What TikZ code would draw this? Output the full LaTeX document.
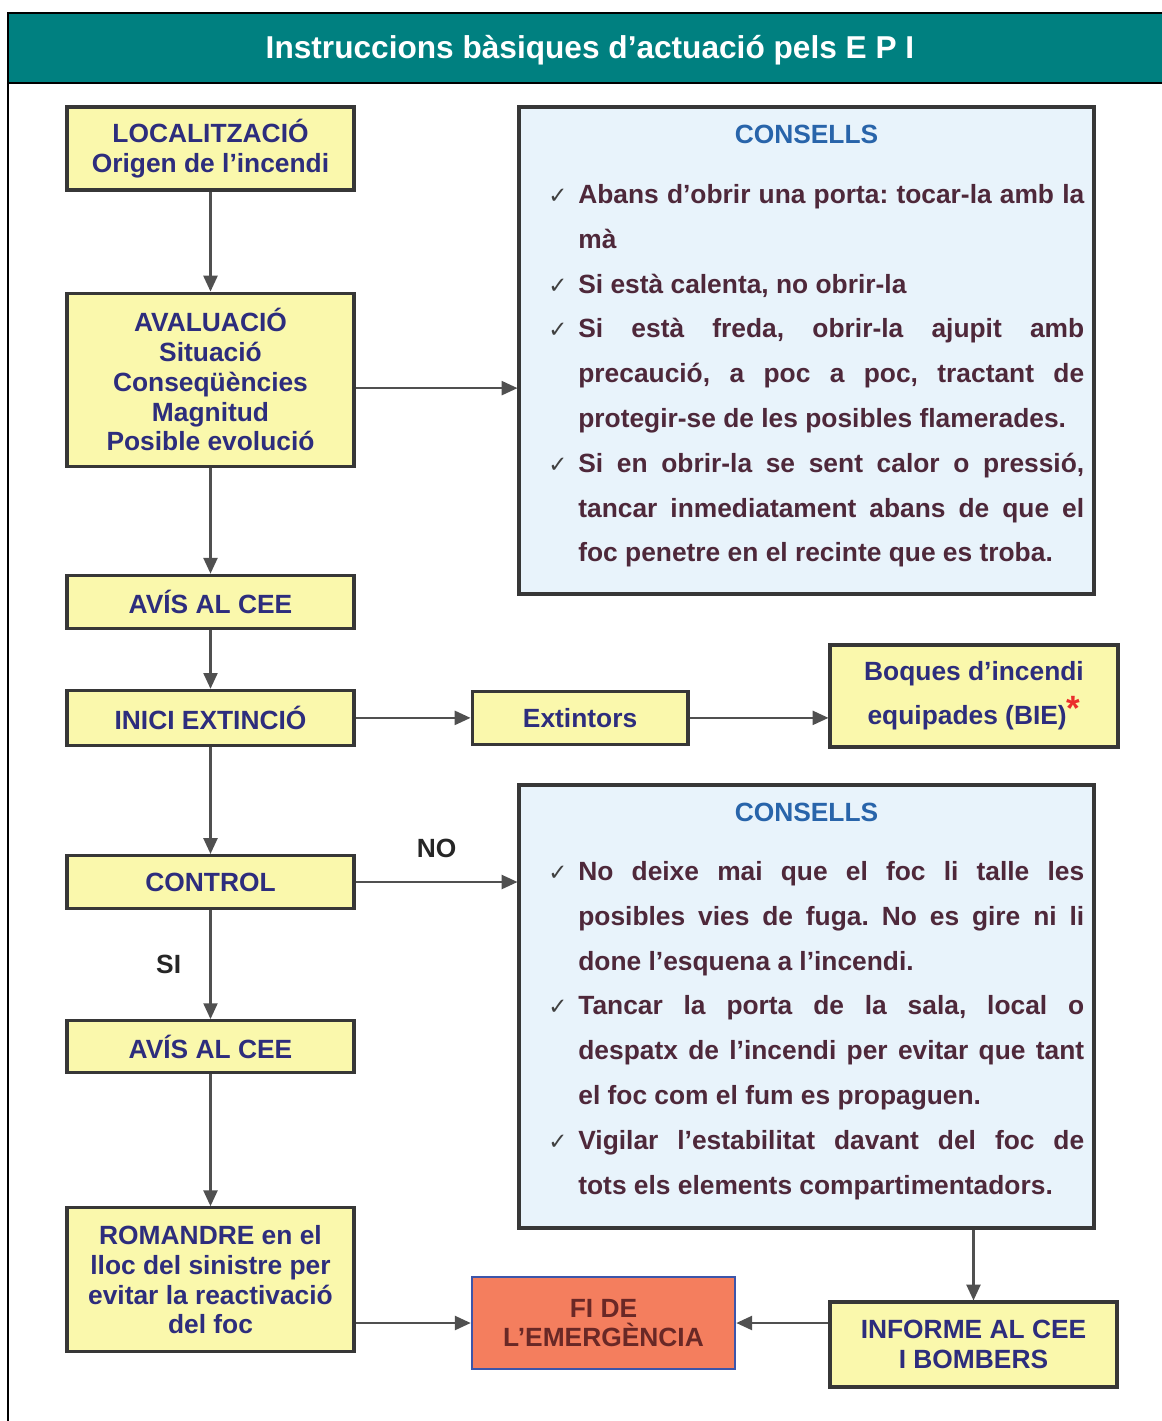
\documentclass[tikz,border=0pt]{standalone}
\usepackage{fontspec}
\setmainfont{Liberation Sans}
\newfontfamily\chkfont{DejaVu Sans}
\usetikzlibrary{arrows.meta, positioning}
\frenchspacing

\definecolor{barteal}{RGB}{0,128,128}
\definecolor{boxyellow}{RGB}{250,248,172}
\definecolor{boxline}{RGB}{55,55,55}
\definecolor{boxtext}{RGB}{45,45,125}
\definecolor{tipfill}{RGB}{232,243,251}
\definecolor{headblue}{RGB}{40,100,170}
\definecolor{tiptext}{RGB}{78,40,58}
\definecolor{endfill}{RGB}{244,126,94}
\definecolor{endline}{RGB}{60,85,170}
\definecolor{endtext}{RGB}{105,40,38}
\definecolor{arrowgray}{RGB}{80,80,80}
\definecolor{starred}{RGB}{235,45,45}

\newcommand{\tickmark}{\makebox[0.6cm][l]{\chkfont\mdseries\fontsize{13}{13}\selectfont\color{black!75}✓}}
\newcommand{\tipitem}{\hangindent=0.6cm\hangafter=1\noindent\tickmark}

\tikzstyle{every picture} = [node distance=2cm]
\tikzstyle{flowbox} = [rectangle, draw=boxline, line width=1.8pt, fill=boxyellow, text=boxtext, font=\bfseries\fontsize{15}{17}\selectfont, align=center, minimum width=5.74cm, inner sep=2pt]
\tikzstyle{tipbox} = [rectangle, draw=boxline, line width=1.8pt, fill=tipfill, minimum width=11.5cm]
\tikzstyle{headtext} = [text=headblue, font=\bfseries\fontsize{15}{17}\selectfont]
\tikzstyle{tiplist} = [text=tiptext, font=\bfseries\fontsize{15}{25.5}\selectfont, text width=10.72cm, align=justify, inner sep=0pt, anchor=north west]
\tikzstyle{endbox} = [rectangle, draw=endline, line width=1.5pt, fill=endfill, text=endtext, font=\bfseries\fontsize{15}{17}\selectfont, align=center, minimum width=5.26cm, minimum height=1.84cm]
\tikzstyle{flowarrow} = [draw=arrowgray, line width=1.2pt, -{Triangle[length=9pt, width=8pt]}]
\tikzstyle{answer} = [text=black!85, font=\bfseries\fontsize{15}{17}\selectfont]

\begin{document}
\begin{tikzpicture}[x=0.02cm, y=-0.02cm]
	\useasboundingbox (0,0) rectangle (1162,1421);
	% frame and title bar
	\draw[line width=1.2pt] (8,13) rectangle (1180,1440);
	\draw[line width=1.2pt, fill=barteal] (8,13) rectangle (1180,83);
	\node (node title) at (590,50) [text=white, font=\bfseries\fontsize{18}{20}\selectfont] {Instruccions bàsiques d’actuació pels E P I};

	% left column
	\node (node loc) [flowbox, minimum height=1.66cm] at (210.5,148.5) {LOCALITZACIÓ\\Origen de l’incendi};
	\node (node aval) [flowbox, minimum height=3.46cm, below=2.0cm of node loc] {AVALUACIÓ\\Situació\\Conseqüències\\Magnitud\\Posible evolució};
	\node (node avis 1) [flowbox, minimum height=1.06cm, below=2.12cm of node aval] {AVÍS AL CEE};
	\node (node inici) [flowbox, minimum height=1.1cm, below=1.18cm of node avis 1] {INICI EXTINCIÓ};
	\node (node control) [flowbox, minimum height=1.06cm, below=2.14cm of node inici] {CONTROL};
	\node (node avis 2) [flowbox, minimum height=1.04cm, below=2.18cm of node control] {AVÍS AL CEE};
	\node (node rom) [flowbox, minimum height=2.88cm, below=2.64cm of node avis 2] {ROMANDRE en el\\lloc del sinistre per\\evitar la reactivació\\del foc};

	% right side
	\node (node ext) [flowbox, minimum width=4.32cm, minimum height=1.06cm, right=2.3cm of node inici] {Extintors};
	\node (node bie) [flowbox, minimum width=5.76cm, minimum height=2.04cm, font=\bfseries\fontsize{15}{25}\selectfont] at (974,696) {Boques d’incendi\\equipades (BIE)\raisebox{0.3ex}{\color{starred}\fontsize{20}{20}\selectfont *}};
	\node (node fi) [endbox] at (603.5,1323) {FI DE\\L’EMERGÈNCIA};
	\node (node inf) [flowbox, minimum height=1.7cm] at (973.5,1344.5) {INFORME AL CEE\\I BOMBERS};

	% advice boxes
	\node (node c1) [tipbox, minimum height=9.74cm] at (806.5,350.5) {};
	\node (node c1 head) [headtext] at (806.5,134) {CONSELLS};
	\node (node c1 list) [tiplist] at (548,184) {%
		\tipitem Abans d’obrir una porta: tocar-la amb la\linebreak mà\par
		\tipitem Si està calenta, no obrir-la\par
		\tipitem Si està freda, obrir-la ajupit amb\linebreak precaució, a poc a poc, tractant de\linebreak protegir-se de les posibles flamerades.\par
		\tipitem Si en obrir-la se sent calor o pressió,\linebreak tancar inmediatament abans de que el\linebreak foc penetre en el recinte que es troba.\par};

	\node (node c2) [tipbox, minimum height=8.86cm] at (806.5,1006.5) {};
	\node (node c2 head) [headtext] at (806.5,812) {CONSELLS};
	\node (node c2 list) [tiplist] at (548,861) {%
		\tipitem No deixe mai que el foc li talle les\linebreak posibles vies de fuga. No es gire ni li\linebreak done l’esquena a l’incendi.\par
		\tipitem Tancar la porta de la sala, local o\linebreak despatx de l’incendi per evitar que tant\linebreak el foc com el fum es propaguen.\par
		\tipitem Vigilar l’estabilitat davant del foc de\linebreak tots els elements compartimentadors.\par};

	% connectors
	\coordinate (aval out) at ([yshift=-0.17cm]node aval.east);
	\path (node loc) edge[flowarrow] (node aval);
	\path (aval out) edge[flowarrow] (aval out -| node c1.west);
	\path (node aval) edge[flowarrow] (node avis 1);
	\path (node avis 1) edge[flowarrow] (node inici);
	\path (node inici) edge[flowarrow] (node ext);
	\path (node ext.east) edge[flowarrow] (node ext.east -| node bie.west);
	\path (node inici) edge[flowarrow] (node control);
	\path (node control) edge[flowarrow] node[answer, above=0.35cm] {NO} (node control -| node c2.west);
	\path (node control) edge[flowarrow] node[answer, left=0.45cm] {SI} (node avis 2);
	\path (node avis 2) edge[flowarrow] (node rom);
	\path (node rom.east |- node fi) edge[flowarrow] (node fi.west);
	\path (node c2.south -| node inf) edge[flowarrow] (node inf.north);
	\path (node inf.west |- node fi) edge[flowarrow] (node fi.east);
\end{tikzpicture}
\end{document}
